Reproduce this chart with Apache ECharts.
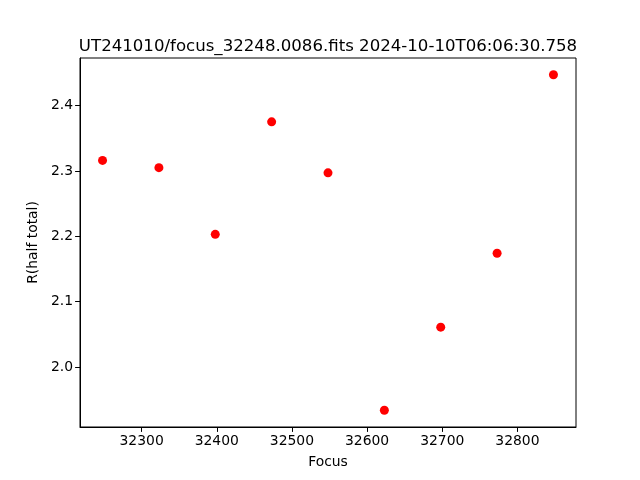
<!DOCTYPE html>
<html><head><meta charset="utf-8">
<script src="https://cdn.jsdelivr.net/npm/echarts@6/dist/echarts.min.js"></script>
<style>html,body{margin:0;padding:0;background:#fff}#c{width:640px;height:480px}</style>
</head><body><div id="c"></div>
<script>
const titleText = "UT241010/focus_32248.0086.fits 2024-10-10T06:06:30.758";
const focusValues = [32248, 32323, 32398, 32473, 32548, 32623, 32698, 32773, 32848];
const rValues = [2.316, 2.305, 2.203, 2.375, 2.297, 1.934, 2.061, 2.174, 2.447];
const xTicks = [32300, 32400, 32500, 32600, 32700, 32800];
const yTicks = [2.0, 2.1, 2.2, 2.3, 2.4];

function pad(arr){const mn=Math.min(...arr),mx=Math.max(...arr),r=mx-mn;return [mn-0.05*r,mx+0.05*r];}
const xr = pad(focusValues), yr = pad(rValues);
const font = 'DejaVu Sans';
const chart = echarts.init(document.getElementById('c'), null, {renderer:'canvas'});
chart.setOption({
  animation:false,
  backgroundColor:'#fff',
  title:{text:titleText,left:323,top:33,textAlign:'center',textStyle:{fontFamily:font,fontSize:16.6,fontWeight:'normal',color:'#000'}},
  grid:{left:80,right:64,top:58,bottom:53,show:true,borderColor:'#000',borderWidth:1,backgroundColor:'transparent'},
  xAxis:{type:'value',min:xr[0],max:xr[1],name:'Focus',nameLocation:'middle',nameGap:28,
    nameTextStyle:{fontFamily:font,fontSize:13.9,color:'#000'},
    axisLine:{show:true,lineStyle:{color:'#000',width:1}},
    axisTick:{show:true,inside:false,length:4.9,lineStyle:{color:'#000',width:1},customValues:xTicks},
    axisLabel:{customValues:xTicks,margin:7,fontFamily:font,fontSize:13.9,color:'#000',formatter:v=>String(v)},
    splitLine:{show:false}},
  yAxis:{type:'value',min:yr[0],max:yr[1],name:'R(half total)',nameLocation:'middle',nameGap:38,
    nameTextStyle:{fontFamily:font,fontSize:13.9,color:'#000'},
    axisLine:{show:true,lineStyle:{color:'#000',width:1}},
    axisTick:{show:true,inside:false,length:4.9,lineStyle:{color:'#000',width:1},customValues:yTicks},
    axisLabel:{customValues:yTicks,margin:7,fontFamily:font,fontSize:13.9,color:'#000',formatter:v=>v.toFixed(1)},
    splitLine:{show:false}},
  series:[{type:'scatter',data:focusValues.map((x,i)=>[x,rValues[i]]),symbol:'circle',symbolSize:9,itemStyle:{color:'#ff0000',opacity:1}}]
});
</script></body></html>
